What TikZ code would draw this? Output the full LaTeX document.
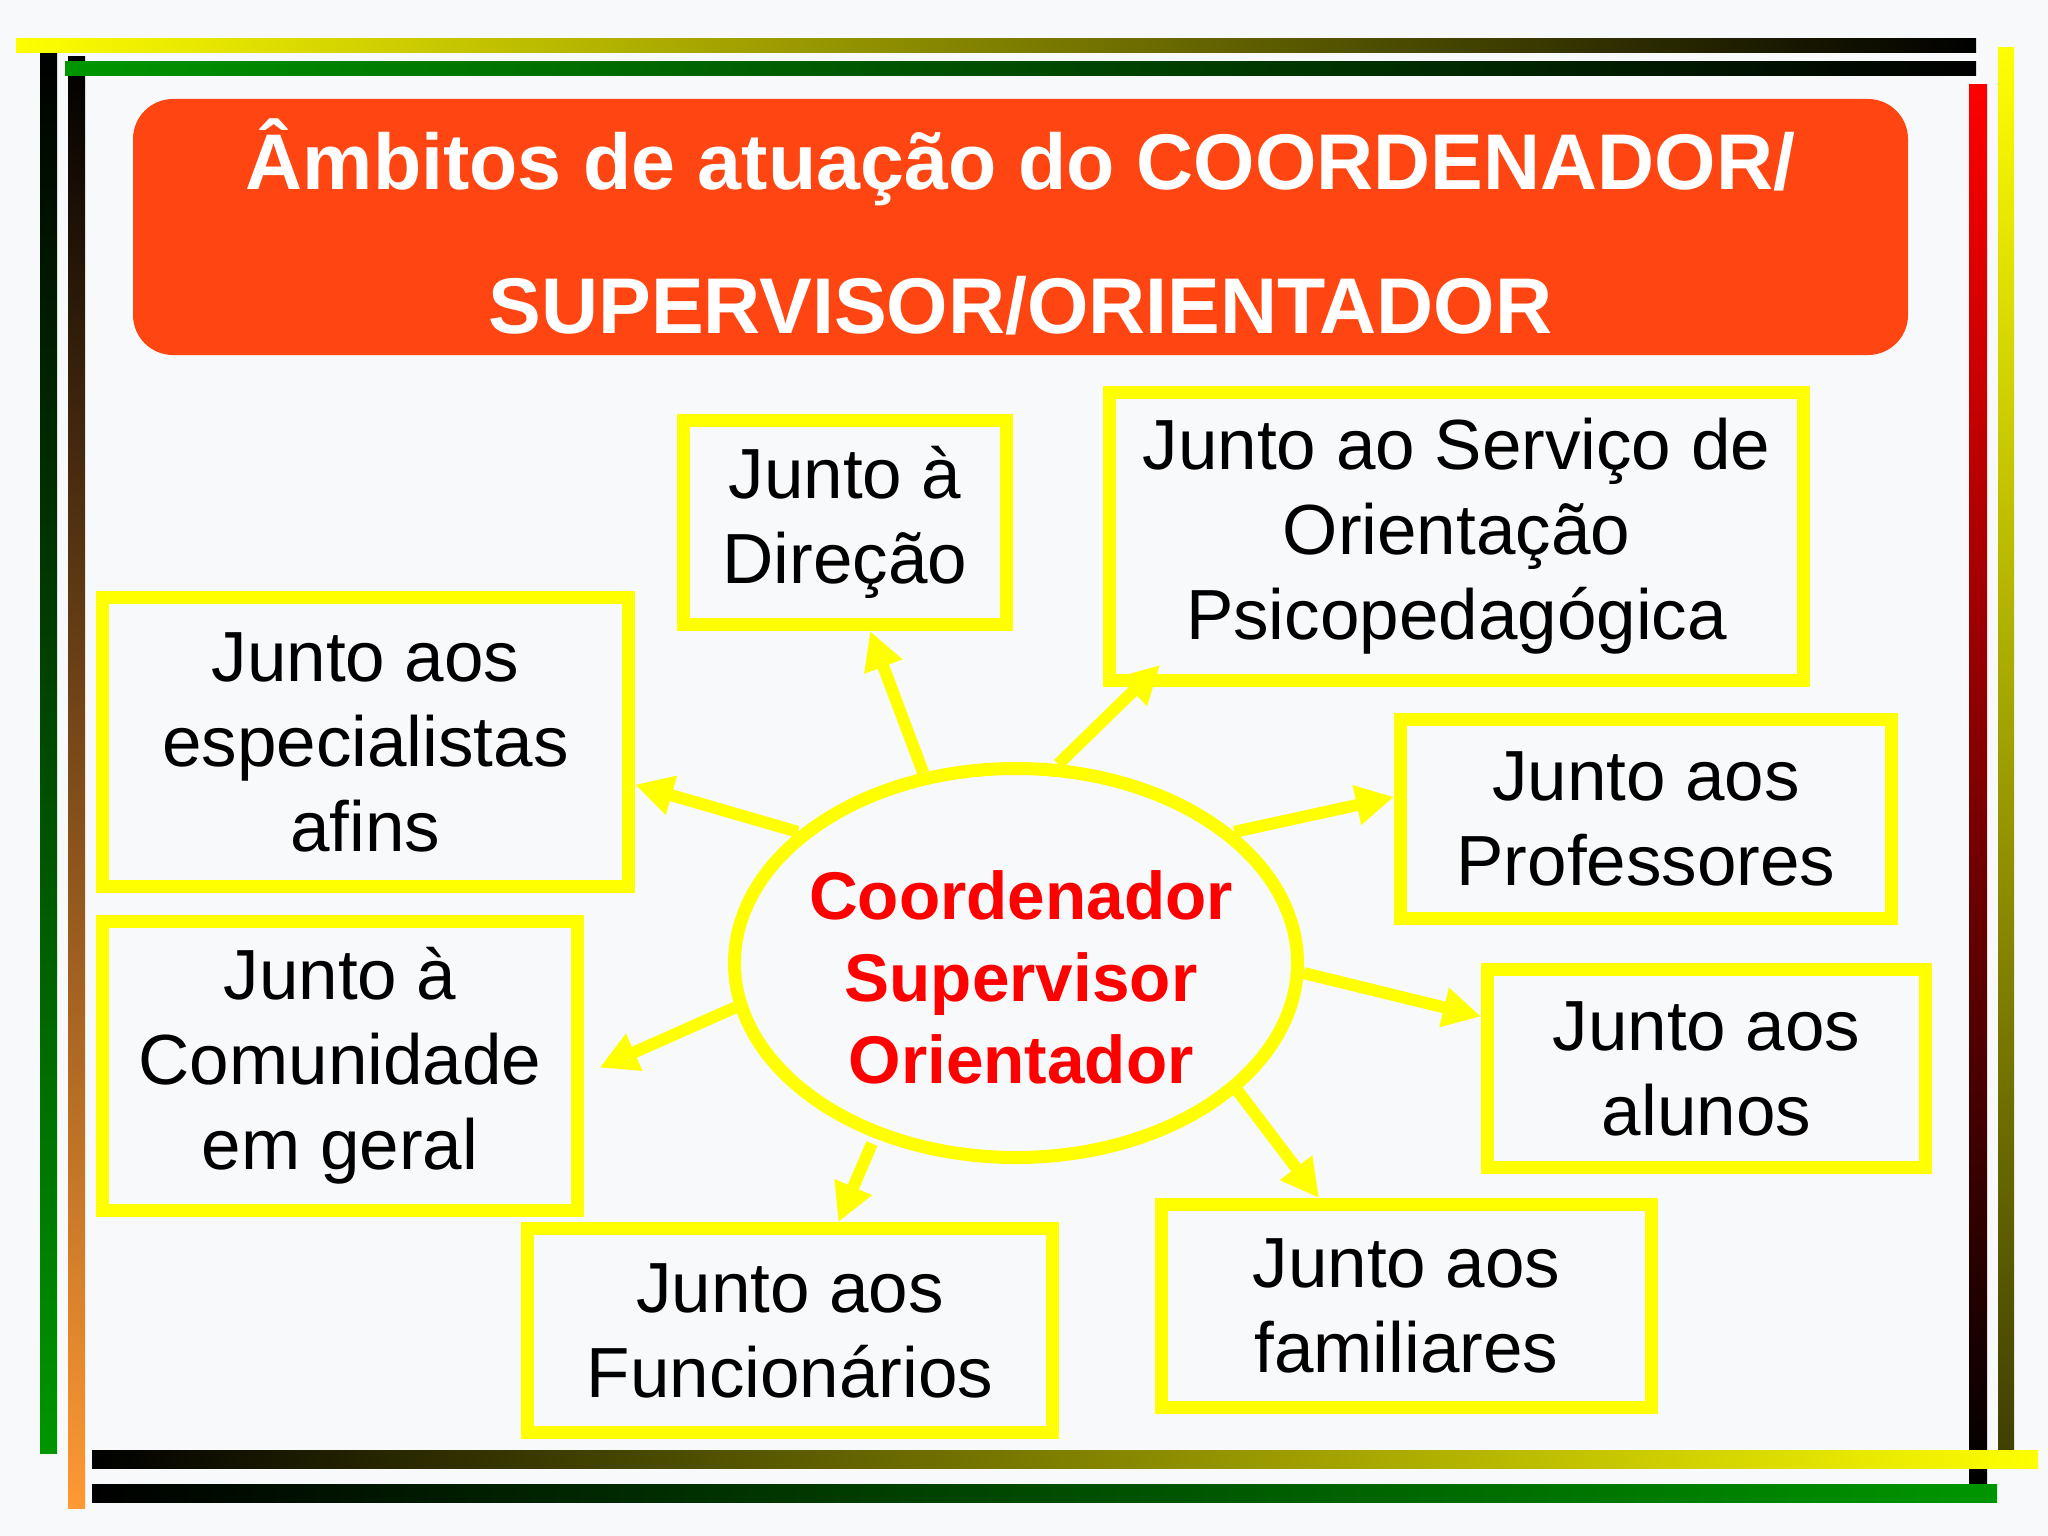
\documentclass[tikz,border=0pt]{standalone}
\usepackage{fontspec}
\setmainfont{Liberation Sans}
\usepackage{tikz}
\usetikzlibrary{
    arrows.meta,
    shapes.geometric,
    calc
}
\definecolor{fundo}{RGB}{248,249,251}
\definecolor{titulo}{RGB}{255,70,18}
\definecolor{verde}{RGB}{0,150,0}
\definecolor{laranja}{RGB}{255,153,51}
\definecolor{amarelo}{RGB}{255,255,0}
\definecolor{vermelho}{RGB}{255,0,0}

\begin{document}
\begin{tikzpicture}[x=1pt, y=-1pt,
    campo/.style={draw=amarelo, line width=13pt, align=center, inner sep=0pt,
        font=\fontsize{71}{85}\selectfont},
    seta/.style={draw=amarelo, line width=12pt,
        -{Triangle[width=38pt, length=38pt]}}]
                                \useasboundingbox (0, 0) rectangle (2048, 1536);
                                \fill[fundo] (0, 0) rectangle (2048, 1536);
                                \shade[top color=black, middle color=verde!45!black, bottom color=verde] (40, 53) rectangle (57, 1453);
                                \shade[top color=black, middle color=laranja!50!black, bottom color=laranja] (68, 57) rectangle (85, 1508);
                                \shade[top color=vermelho, middle color=vermelho!65!black, bottom color=black] (1969, 85) rectangle (1987, 1484);
                                \shade[top color=amarelo, middle color=amarelo!85!black, bottom color=amarelo!25!black] (1998, 48) rectangle (2014, 1450);
                                \shade[left color=amarelo, middle color=amarelo, right color=black] (16, 39) rectangle (1976, 53);
                                \shade[left color=verde, middle color=verde!80!black, right color=black] (65, 62) rectangle (1976, 76);
                                \shade[left color=black, middle color=amarelo!55!black, right color=amarelo] (92, 1450) rectangle (2038, 1468);
                                \shade[left color=black, middle color=verde!40!black, right color=verde] (92, 1484) rectangle (1997, 1502);
                                \node[fill=titulo, rounded corners=40pt, minimum width=1775pt, minimum height=256pt,
                                    inner sep=0pt, text=white, align=center,
                                    font=\bfseries\fontsize{79}{144}\selectfont]
                                    (title) at (1020.5, 227) {Âmbitos de atuação do COORDENADOR/\\SUPERVISOR/ORIENTADOR};
                                \node[campo, minimum width=323pt, minimum height=204pt] (dir) at (845, 522.5) {Junto à\\Direção};
                                \node[campo, minimum width=694pt, minimum height=288pt] (serv) at (1456.5, 536.5) {Junto ao Serviço de\\Orientação\\Psicopedagógica};
                                \node[campo, minimum width=526pt, minimum height=289pt] (esp) at (365.5, 742) {Junto aos\\especialistas\\afins};
                                \node[campo, minimum width=491pt, minimum height=199pt] (prof) at (1646, 819) {Junto aos\\Professores};
                                \node[campo, minimum width=475pt, minimum height=289pt] (com) at (340, 1066) {Junto à\\Comunidade\\em geral};
                                \node[campo, minimum width=438pt, minimum height=198pt] (alu) at (1706.5, 1068.5) {Junto aos\\alunos};
                                \node[campo, minimum width=525pt, minimum height=204pt] (fun) at (790, 1330.5) {Junto aos\\Funcionários};
                                \node[campo, minimum width=490pt, minimum height=203pt] (fam) at (1406.5, 1306) {Junto aos\\familiares};
                                \node[draw=amarelo, line width=13pt, ellipse, inner sep=0pt,
                                    minimum width=563pt, minimum height=389pt,
                                    label={[text=vermelho, align=center, yshift=-14pt, xshift=5pt,
                                        font=\bfseries\fontsize{67.5}{82}\selectfont]center:{Coordenador\\Supervisor\\Orientador}}]
                                    (core) at (1016, 963) {};
                                \draw[seta] (core.116) -- (dir.-77);
                                \draw[seta] (core.78) -- ($(serv.south west)+(57, -22)$);
                                \draw[seta] (core.149) -- (esp.-9);
                                \draw[seta] (core.31) -- (prof.175.7);
                                \draw[seta, shorten >=17pt] (core.189) -- (com.-2);
                                \draw[seta] (core.-2) -- (alu.167.5);
                                \draw[seta, shorten <=6pt] (core.231) -- (fun.66);
                                \draw[seta] (core.-30) -- (fam.129);
                            \end{tikzpicture}
\end{document}
